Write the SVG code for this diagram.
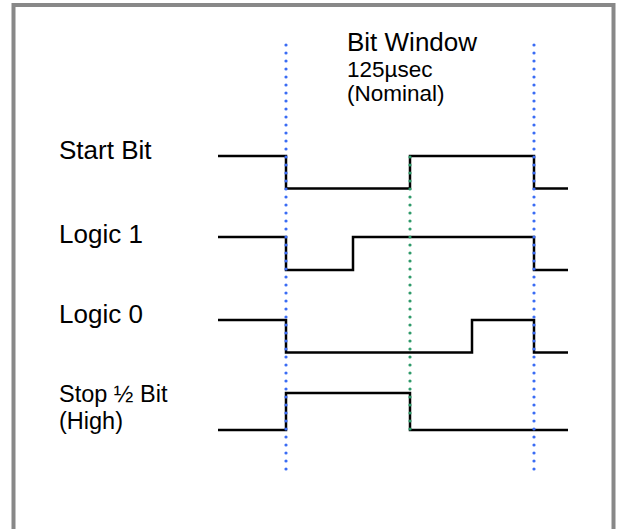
<svg xmlns="http://www.w3.org/2000/svg" width="618" height="529" viewBox="0 0 618 529">
<style>
.lbl{font-family:"Liberation Sans",Arial,sans-serif;fill:#000}
.big{font-size:26px}
.mid{font-size:22.5px}
.sm{font-size:23.5px}
.wave{fill:none;stroke:#000;stroke-width:2.5}
.blue{stroke:#3a6cf4;stroke-width:3.2;stroke-linecap:round;stroke-dasharray:0 8;fill:none}
.green{stroke:#2f9a6a;stroke-width:3.2;stroke-linecap:round;stroke-dasharray:0 8;fill:none}
</style>
<rect x="0" y="0" width="618" height="529" fill="#fff"/>
<rect id="frame" x="13.5" y="5" width="600" height="540" fill="none" stroke="#888" stroke-width="4"/>
<g id="title">
<text class="lbl big" x="347" y="51">Bit Window</text>
<text class="lbl mid" x="347" y="77">125µsec</text>
<text class="lbl mid" x="347" y="101">(Nominal)</text>
</g>
<g id="start-bit">
<text class="lbl big" x="59" y="159">Start Bit</text>
<polyline class="wave" points="218,156 286,156 286,188.5 410,188.5 410,156 534,156 534,188.5 568,188.5"/>
</g>
<g id="logic-1">
<text class="lbl big" x="59" y="243">Logic 1</text>
<polyline class="wave" points="218,237 286,237 286,270 353,270 353,237 534,237 534,270 568,270"/>
</g>
<g id="logic-0">
<text class="lbl big" x="59" y="323">Logic 0</text>
<polyline class="wave" points="218,320 286,320 286,352.5 472,352.5 472,320 534,320 534,352.5 568,352.5"/>
</g>
<g id="stop-bit">
<text class="lbl sm" x="59" y="401.5">Stop ½ Bit</text>
<text class="lbl sm" x="59" y="428.5">(High)</text>
<polyline class="wave" points="218,430 286,430 286,393 410,393 410,430 568,430"/>
</g>
<g id="connectors">
<line class="blue" x1="286" y1="45" x2="286" y2="471"/>
<line class="blue" x1="534" y1="45" x2="534" y2="471"/>
<line class="green" x1="410" y1="157" x2="410" y2="430"/>
</g>
</svg>
